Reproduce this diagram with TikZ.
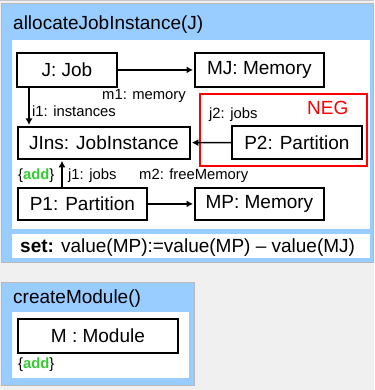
\documentclass[tikz,border=0pt]{standalone}
\usepackage{fontspec}
\setmainfont{Liberation Sans}
\usepackage{xcolor}
\usetikzlibrary{arrows.meta,positioning}

\definecolor{rulebg}{RGB}{153,204,255}
\definecolor{pagebg}{RGB}{240,240,240}
\definecolor{addgreen}{RGB}{51,204,51}
\newcommand{\addtag}{\{\textcolor{addgreen}{\textbf{add}}\}}

\begin{document}
\begin{tikzpicture}[
    x=1pt, y=-1pt,
    rule/.style={
        draw=gray!55,
        fill=rulebg,
        line width=0.8pt
    },
    obj/.style={
        draw,
        line width=1.8pt,
        fill=white,
        inner sep=0pt,
        anchor=north west,
        font=\fontsize{19}{21}\selectfont
    },
    lbl/.style={
        font=\fontsize{14.8}{16}\selectfont,
        inner sep=0pt,
        anchor=base west
    },
    title/.style={
        font=\fontsize{19}{21}\selectfont,
        inner sep=0pt,
        anchor=base west
    },
    edge/.style={-{Latex[length=6.5pt,width=7pt]}, line width=1.4pt, shorten >=1pt}
]

\useasboundingbox[fill=pagebg] (0,0) rectangle (374,390);
\draw[gray!45, line width=1pt] (0,0.5) -- (374,0.5);

\draw[rule] (1,3) rectangle (373,262);
\fill[white] (12,40) rectangle (370,229);
\fill[white] (12,234) rectangle (370,258);

\draw[rule] (1,282) rectangle (194,385);
\fill[white] (12,312) rectangle (189,378);

\node[title] (rule1) at (13,30) {allocateJobInstance(J)};
\node[title] (rule2) at (13,303) {createModule()};

\draw[red, line width=2pt] (200,94) rectangle (367,166);
\node[title, text=red] (neg) at (307,115) {NEG};

\node[obj, minimum width=100pt, minimum height=34pt] (job) at (16,52) {J: Job};
\node[obj, minimum width=129pt, minimum height=34pt] (mj) at (194,52) {MJ: Memory};
\node[obj, minimum width=172pt, minimum height=32pt] (jins) at (17,126) {JIns: JobInstance};
\node[obj, minimum width=130pt, minimum height=33pt] (p2) at (231,125) {P2: Partition};
\node[obj, minimum width=129pt, minimum height=32pt] (p1) at (17,187) {P1: Partition};
\node[obj, minimum width=129pt, minimum height=32pt] (mp) at (194,187) {MP: Memory};
\node[obj, minimum width=160pt, minimum height=34pt] (mod) at (17,318) {M : Module};

\draw[edge] (job) -- (mj);
\draw[edge] ([xshift=13pt]job.south west) -- ([xshift=12pt]jins.north west);
\draw[edge] (p2) -- (jins);
\draw[edge] ([xshift=45pt]p1.north west) -- ([xshift=45pt]jins.south west);
\draw[edge] (p1) -- (mp);

\node[lbl] (m1) at (102,100) {m1: memory};
\node[lbl] (i1) at (32,117) {i1: instances};
\node[lbl] (j2) at (209,119) {j2: jobs};
\node[lbl] (add1) at (18,179) {\addtag};
\node[lbl] (j1) at (68,179) {j1: jobs};
\node[lbl] (m2) at (139,179) {m2: freeMemory};
\node[lbl] (add2) at (18,368) {\addtag};

\node[title] (set) at (20,252) {\textbf{set:} value(MP):=value(MP) -- value(MJ)};

\end{tikzpicture}
\end{document}
